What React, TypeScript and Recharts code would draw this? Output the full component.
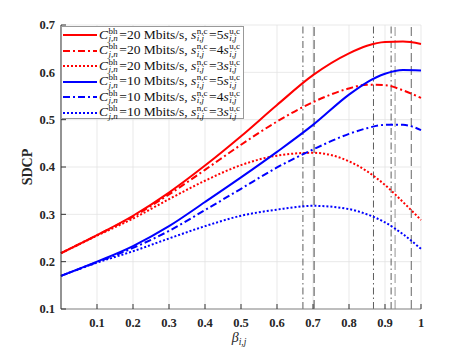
import React from 'react';
import { LineChart, Line, XAxis, YAxis, CartesianGrid, ReferenceLine, Legend } from 'recharts';

const beta = [0, 0.1, 0.2, 0.3, 0.4, 0.5, 0.6, 0.7, 0.8, 0.85, 0.9, 0.95, 1.0];
const red5 = [0.218, 0.256, 0.297, 0.346, 0.403, 0.465, 0.531, 0.594, 0.640, 0.656, 0.664, 0.665, 0.660];
const red4 = [0.218, 0.256, 0.295, 0.342, 0.394, 0.447, 0.496, 0.537, 0.566, 0.574, 0.573, 0.562, 0.546];
const red3 = [0.218, 0.255, 0.291, 0.332, 0.371, 0.404, 0.424, 0.430, 0.412, 0.391, 0.362, 0.326, 0.288];
const blue5 = [0.170, 0.200, 0.233, 0.275, 0.326, 0.378, 0.432, 0.489, 0.553, 0.579, 0.597, 0.605, 0.604];
const blue4 = [0.170, 0.199, 0.229, 0.265, 0.309, 0.354, 0.399, 0.437, 0.470, 0.482, 0.489, 0.489, 0.478];
const blue3 = [0.170, 0.198, 0.222, 0.249, 0.275, 0.297, 0.310, 0.318, 0.311, 0.300, 0.283, 0.258, 0.227];

const xTicks = [0.1, 0.2, 0.3, 0.4, 0.5, 0.6, 0.7, 0.8, 0.9, 1];
const yTicks = [0.1, 0.2, 0.3, 0.4, 0.5, 0.6, 0.7];

const dashDotLines = [0.672, 0.868, 0.917];
const dashedLines = [0.703, 0.928, 0.973];
const dashedColors = ['#333333', '#888888', '#555555'];

const seriesKeys = ['r5', 'r4', 'r3', 'b5', 'b4', 'b3'];
const seriesValues = [red5, red4, red3, blue5, blue4, blue3];
const seriesColors = ['#ff0000', '#ff0000', '#ff0000', '#0000ff', '#0000ff', '#0000ff'];
const seriesDash = [undefined, '7 3 2 3', '2 2', undefined, '7 3 2 3', '2 2'];
const backhaul = [20, 20, 20, 10, 10, 10];
const ratio = [5, 4, 3, 5, 4, 3];

const data = beta.map((b, i) => {
  const row: Record<string, number> = { beta: b };
  seriesKeys.forEach((k, j) => {
    row[k] = seriesValues[j][i];
  });
  return row;
});

const FONT = 'Liberation Serif, Times New Roman, serif';

function Sc({ sup, sub }: { sup: string; sub: string }) {
  return (
    <span
      style={{
        display: 'inline-flex',
        flexDirection: 'column',
        fontSize: 9,
        lineHeight: '7.5px',
        verticalAlign: '5px',
        margin: '0 1.5px 0 0.5px',
        fontStyle: 'normal',
      }}
    >
      <span>{sup}</span>
      <span style={{ fontStyle: 'italic' }}>{sub}</span>
    </span>
  );
}

function LegendBox() {
  return (
    <div
      style={{
        width: 183,
        height: 93,
        boxSizing: 'border-box',
        border: '1px solid #999',
        background: '#fff',
        paddingTop: 0.5,
        fontFamily: FONT,
        color: '#111',
      }}
    >
      {seriesKeys.map((k, i) => (
        <div key={k} style={{ display: 'flex', alignItems: 'center', height: 15.5 }}>
          <svg width={36} height={6} style={{ flex: 'none' }}>
            <line
              x1={1}
              x2={35}
              y1={3}
              y2={3}
              stroke={seriesColors[i]}
              strokeWidth={2}
              strokeDasharray={seriesDash[i]}
            />
          </svg>
          <span style={{ whiteSpace: 'nowrap', fontSize: 13.5, lineHeight: '13px', marginLeft: 1 }}>
            <i>C</i>
            <Sc sup="bh" sub="j,n" />={backhaul[i]} Mbits/s,&nbsp;<i>s</i>
            <Sc sup="n,c" sub="i,j" />={ratio[i]}
            <i>s</i>
            <Sc sup="u,c" sub="i,j" />
          </span>
        </div>
      ))}
    </div>
  );
}

const tickStyle = { fontFamily: FONT, fontWeight: 'bold' as const, fontSize: 12.5, fill: '#262626' };

export default function App() {
  return (
    <div style={{ position: 'absolute', left: 0, top: 0, background: '#fff', fontFamily: FONT }}>
      <LineChart width={465} height={349} data={data} margin={{ top: 25, right: 44, left: 0, bottom: 0 }}>
        <CartesianGrid stroke="#e3e3e3" strokeWidth={0.8} />
        <XAxis
          dataKey="beta"
          type="number"
          domain={[0, 1]}
          ticks={xTicks}
          height={40}
          tickSize={-5}
          tickMargin={14.5}
          tick={tickStyle}
          stroke="#888"
          axisLine={{ stroke: '#888' }}
          tickLine={{ stroke: '#333' }}
          label={(props: any) => {
            const vb = props.viewBox;
            const cx = vb.x + vb.width / 2 - 2;
            return (
              <text x={cx} y={342} textAnchor="middle" fontFamily={FONT} fill="#262626">
                <tspan fontStyle="italic" fontSize={14}>β</tspan>
                <tspan fontStyle="italic" fontSize={9.5} dy={3}>i,j</tspan>
              </text>
            );
          }}
        />
        <XAxis
          xAxisId="top"
          orientation="top"
          dataKey="beta"
          type="number"
          domain={[0, 1]}
          ticks={xTicks}
          height={0}
          tickSize={-5}
          tickFormatter={() => ''}
          axisLine={{ stroke: '#999' }}
          tickLine={{ stroke: '#999' }}
        />
        <YAxis
          type="number"
          domain={[0.1, 0.7]}
          ticks={yTicks}
          width={61}
          tickSize={-5}
          tickMargin={11}
          tick={tickStyle}
          axisLine={{ stroke: '#333' }}
          tickLine={{ stroke: '#333' }}
          tickFormatter={(v: number) => v.toFixed(1)}
          label={{
            value: 'SDCP',
            angle: -90,
            position: 'center',
            dx: -3,
            style: { fontFamily: FONT, fontWeight: 'bold', fontSize: 14, fill: '#262626' },
          }}
        />
        <YAxis
          yAxisId="right"
          orientation="right"
          type="number"
          domain={[0.1, 0.7]}
          ticks={yTicks}
          width={0}
          tickSize={-5}
          tickFormatter={() => ''}
          axisLine={{ stroke: '#999' }}
          tickLine={{ stroke: '#999' }}
        />
        {dashDotLines.map((x) => (
          <ReferenceLine key={'dd' + x} x={x} stroke="#333" strokeWidth={0.8} strokeDasharray="7 3 1.5 3" />
        ))}
        {dashedLines.map((x, i) => (
          <ReferenceLine key={'d' + x} x={x} stroke={dashedColors[i]} strokeWidth={0.9} strokeDasharray="9 4" />
        ))}
        {seriesKeys.map((k, i) => (
          <Line
            key={k}
            dataKey={k}
            type="monotone"
            stroke={seriesColors[i]}
            strokeWidth={2}
            strokeDasharray={seriesDash[i]}
            dot={false}
            activeDot={false}
            isAnimationActive={false}
          />
        ))}
        <Legend
          layout="vertical"
          align="center"
          verticalAlign="middle"
          content={() => <LegendBox />}
          wrapperStyle={{ position: 'absolute', left: 61, top: 26, width: 183, height: 93 }}
        />
      </LineChart>
    </div>
  );
}
